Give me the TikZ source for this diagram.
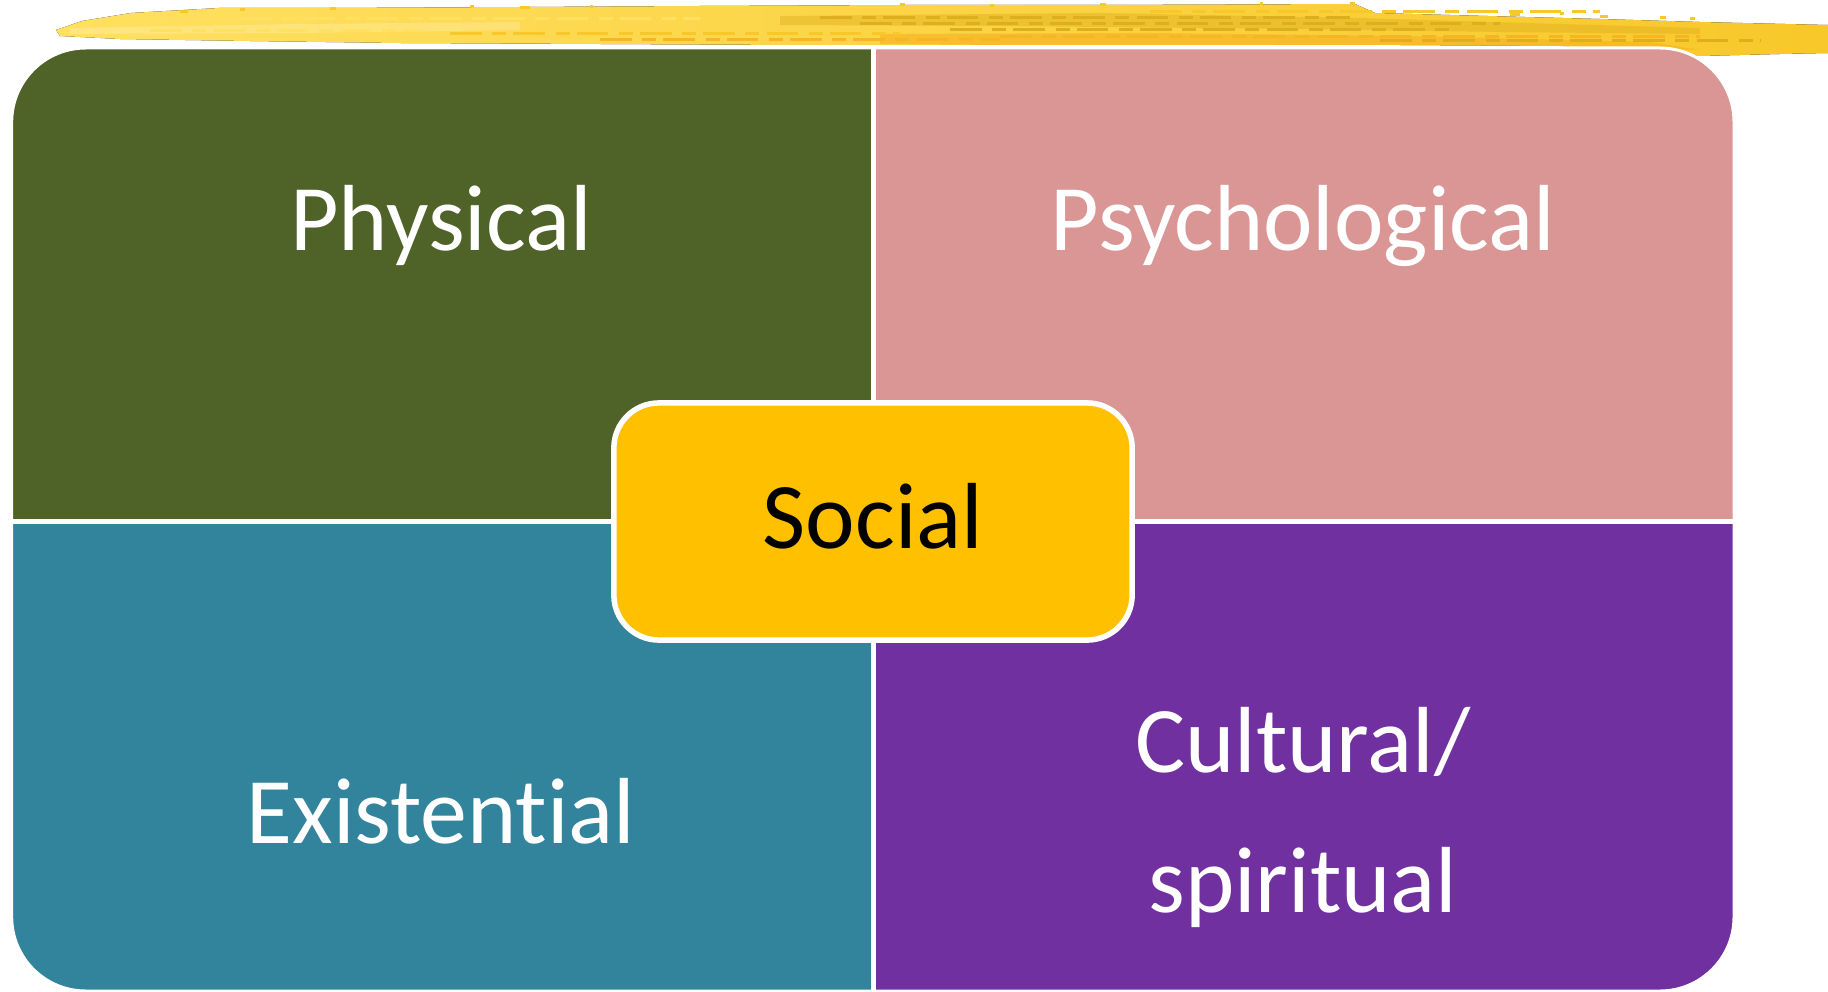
\documentclass[tikz,border=0pt]{standalone}
\usepackage{fontspec}
\setmainfont{Carlito}[Ligatures={NoCommon}]

\definecolor{physgreen}{HTML}{4F6228}
\definecolor{psychpink}{HTML}{D99694}
\definecolor{existteal}{HTML}{31849B}
\definecolor{cultpurple}{HTML}{7030A0}
\definecolor{socialgold}{HTML}{FFC000}
\definecolor{brushlight}{HTML}{FFE060}
\definecolor{brushmid}{HTML}{FCD236}
\definecolor{brushgold}{HTML}{F8C82A}
\definecolor{brushdark}{HTML}{DDAE1E}
\definecolor{brushorange}{HTML}{F6B523}

\tikzset{
  lbl/.style={anchor=base, text=white, inner sep=0pt,
    font=\fontsize{26.7}{40}\selectfont},
  socialbox/.style={draw=white, fill=socialgold, line width=0.055cm,
    rounded corners=0.45cm, minimum width=5.18cm, minimum height=2.37cm,
    inner sep=0pt},
  streak/.style={line width=0.03cm, dash pattern=on 9pt off 3pt on 4pt off 2pt}
}

\begin{document}
\begin{tikzpicture}[x=0.01cm, y=-0.01cm]
\useasboundingbox (0,0) rectangle (1828,991);

% brush stroke along the top
\fill[left color=brushlight, middle color=brushmid, right color=brushgold]
  (56,30) -- (82,21) -- (131,13) -- (219,8) -- (330,8) -- (520,7) -- (700,6)
  -- (900,5) -- (1100,5) -- (1355,4) -- (1375,13) -- (1450,15)
  -- (1600,19) -- (1700,22) -- (1828,25) -- (1828,53) -- (1780,54)
  -- (1700,56) -- (1650,53) -- (1560,46) -- (1400,45) -- (1200,45)
  -- (1000,45) -- (800,45) -- (600,44) -- (400,43) -- (250,41)
  -- (120,39) -- (60,36) -- cycle;
\fill[brushdark, opacity=0.45]
  (780,16) -- (1100,13) -- (1360,18) -- (1560,24) -- (1700,28)
  -- (1700,34) -- (1500,32) -- (1300,29) -- (1000,26) -- (780,25) -- cycle;
\fill[brushorange, opacity=0.7]
  (880,34) -- (1150,33) -- (1400,36) -- (1650,42) -- (1700,50)
  -- (1560,46) -- (1400,45) -- (1200,45) -- (1000,45) -- (880,44) -- cycle;
\fill[white, opacity=0.2]
  (70,28) -- (300,24) -- (520,22) -- (520,30) -- (300,33) -- (70,34) -- cycle;
\foreach \xa/\xb/\y/\c in {240/700/19/brushlight, 820/1350/18/brushdark,
    860/1500/24/brushdark, 950/1450/30/brushdark, 1000/1700/37/brushorange,
    1380/1760/41/brushdark, 450/900/34/brushgold, 150/420/31/brushlight,
    1150/1600/12/brushgold, 600/1000/40/brushorange}
  \draw[\c, streak] (\xa,\y) -- (\xb,\y);
\foreach \x/\y/\w in {180/10/8, 240/8/5, 330/7/6, 470/5/4, 520/6/10,
    590/5/3, 900/3/5, 990/4/4, 1100/3/6, 1260/2/3, 1350/2/5,
    1510/13/10, 1560/12/4, 1600/15/8, 1660/16/6, 1690/17/5}
  \fill[brushgold] (\x,\y) rectangle ++(\w,3);

% four quadrants
\begin{scope}
\clip[rounded corners=0.74cm] (11.7,48) rectangle (1734,991);
\fill[physgreen]  (0,0)     rectangle (873,521);
\fill[psychpink]  (873,0)   rectangle (1828,521);
\fill[existteal]  (0,521)   rectangle (873,991);
\fill[cultpurple] (873,521) rectangle (1828,991);
\end{scope}
\draw[white, line width=0.03cm, rounded corners=0.74cm]
  (11.7,48) rectangle (1734,991);
\draw[white, line width=0.05cm] (873,48) -- (873,991);
\draw[white, line width=0.05cm] (11.7,521) -- (1734,521);

\node[lbl] (physical) at (441,250) {Physical};
\node[lbl] (psychological) at (1303,250) {Psychological};
\node[lbl] (existential) at (441,843) {Existential};
\node[lbl] (cultural) at (1303,772) {Cultural/};
\node[lbl] (spiritual) at (1303,912) {spiritual};

\node[socialbox] (social) at (873,521.5) {};
\node[lbl, text=black] (socialtext) at (873,548) {Social};

\end{tikzpicture}
\end{document}
